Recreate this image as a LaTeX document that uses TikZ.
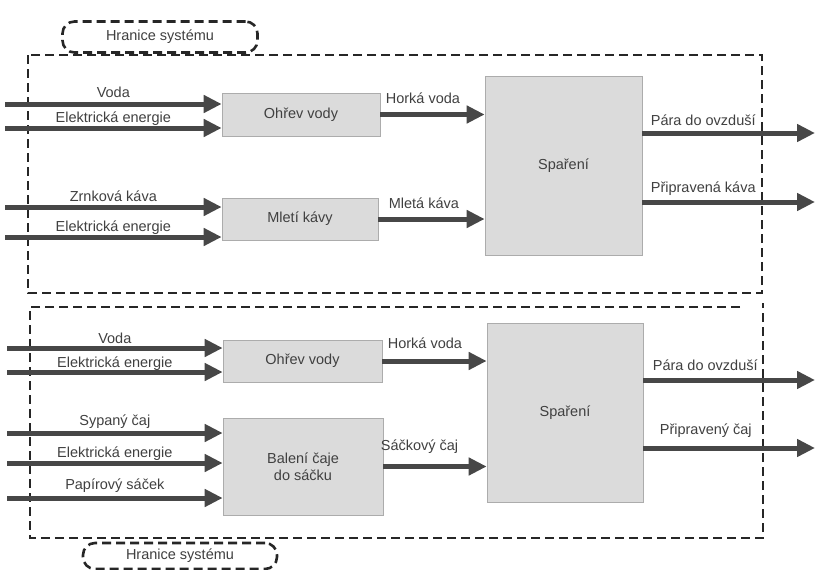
\documentclass[tikz,border=0pt]{standalone}
\usepackage{fontspec}
\setmainfont{Liberation Sans}
\usetikzlibrary{arrows.meta, positioning}

\begin{document}
\begin{tikzpicture}[x=1pt, y=-1pt,
    every node/.style={font=\fontsize{14.5}{17}\selectfont},
    proc/.style={draw=gray!65, fill=gray!28, line width=0.7pt, align=center, text=black!75, inner sep=2pt},
    flow/.style={draw=black!72, line width=5pt, -{Triangle[length=18pt, width=17pt]}},
    hranice/.style={black!85, line width=2.6pt, dash pattern=on 9pt off 5pt},
    lbl/.style={anchor=base, yshift=#1, text=black!75, inner sep=0pt},
    lbl/.default=6pt,
    lblr/.style={anchor=base west, yshift=#1, text=black!75, inner sep=0pt},
    lblr/.default=10pt]
    \useasboundingbox (0,0) rectangle (831,570);

    % System boundaries
    \draw[hranice] (28,55) rectangle (762,293);
    \draw[hranice] (740,307) -- (30,307) -- (30,538) -- (763,538) -- (763,303);
    \node[hranice, draw, fill=white, rounded corners=12pt, minimum width=195pt, minimum height=31pt, text=black!75] (hranK) at (160,37) {Hranice systému};
    \node[hranice, draw, fill=white, rounded corners=12pt, minimum width=194pt, minimum height=26pt, text=black!75] (hranC) at (180,556) {Hranice systému};

    % Coffee: process boxes
    \node[proc, minimum width=158pt, minimum height=43pt] (ohrevK) at (301,114.5) {Ohřev vody};
    \node[proc, minimum width=156pt, minimum height=42pt] (mleti) at (300,219) {Mletí kávy};
    \node[proc, minimum width=157pt, minimum height=179pt] (sparK) at (563.5,165.5) {Spaření};

    % Coffee: inputs
    \coordinate (inVodaK) at (5,104);
    \coordinate (inElK) at (5,128);
    \coordinate (inZrn) at (5,207);
    \coordinate (inElM) at (5,237);
    \draw[flow] (inVodaK) -- (inVodaK -| ohrevK.west) node[lbl=7pt, midway] {Voda};
    \draw[flow] (inElK) -- (inElK -| ohrevK.west) node[lbl, midway] {Elektrická energie};
    \draw[flow] (inZrn) -- (inZrn -| mleti.west) node[lbl, midway] {Zrnková káva};
    \draw[flow] (inElM) -- (inElM -| mleti.west) node[lbl, midway] {Elektrická energie};

    % Coffee: intermediate flows
    \draw[flow] (ohrevK.east) -- (ohrevK.east -| sparK.west) node[lblr=11pt, pos=0, xshift=3pt] {Horká voda};
    \draw[flow] (mleti.east) -- (mleti.east -| sparK.west) node[lblr=11pt, pos=0, xshift=8pt] {Mletá káva};

    % Coffee: outputs
    \coordinate (outParaK) at (815,133);
    \coordinate (outKava) at (815,202);
    \draw[flow] (sparK.east |- outParaK) -- (outParaK) node[lblr=8pt, pos=0, xshift=6pt] {Pára do ovzduší};
    \draw[flow] (sparK.east |- outKava) -- (outKava) node[lblr=10pt, pos=0, xshift=6pt] {Připravená káva};

    % Tea: process boxes
    \node[proc, minimum width=159pt, minimum height=42pt] (ohrevC) at (302.5,361) {Ohřev vody};
    \node[proc, minimum width=160pt, minimum height=97pt] (baleni) at (303,466.5) {Balení čaje\\do sáčku};
    \node[proc, minimum width=156pt, minimum height=179pt] (sparC) at (565,412.5) {Spaření};

    % Tea: inputs
    \coordinate (inVodaC) at (7,348);
    \coordinate (inElC) at (7,372);
    \coordinate (inCaj) at (7,433);
    \coordinate (inElB) at (7,463);
    \coordinate (inSacek) at (7,498);
    \draw[flow] (inVodaC) -- (inVodaC -| ohrevC.west) node[lbl=5pt, midway] {Voda};
    \draw[flow] (inElC) -- (inElC -| ohrevC.west) node[lbl=5pt, midway] {Elektrická energie};
    \draw[flow] (inCaj) -- (inCaj -| baleni.west) node[lbl=8pt, midway] {Sypaný čaj};
    \draw[flow] (inElB) -- (inElB -| baleni.west) node[lbl=6pt, midway] {Elektrická energie};
    \draw[flow] (inSacek) -- (inSacek -| baleni.west) node[lbl=9pt, midway] {Papírový sáček};

    % Tea: intermediate flows
    \draw[flow] (ohrevC.east) -- (ohrevC.east -| sparC.west) node[lblr=13pt, pos=0, xshift=3pt] {Horká voda};
    \draw[flow] (baleni.east) -- (baleni.east -| sparC.west) node[lblr=16pt, pos=0, xshift=-5pt] {Sáčkový čaj};

    % Tea: outputs
    \coordinate (outParaC) at (815,380);
    \coordinate (outCaj) at (815,448);
    \draw[flow] (sparC.east |- outParaC) -- (outParaC) node[lblr=10pt, pos=0, xshift=7pt] {Pára do ovzduší};
    \draw[flow] (sparC.east |- outCaj) -- (outCaj) node[lblr=14pt, pos=0, xshift=14pt] {Připravený čaj};
\end{tikzpicture}
\end{document}
